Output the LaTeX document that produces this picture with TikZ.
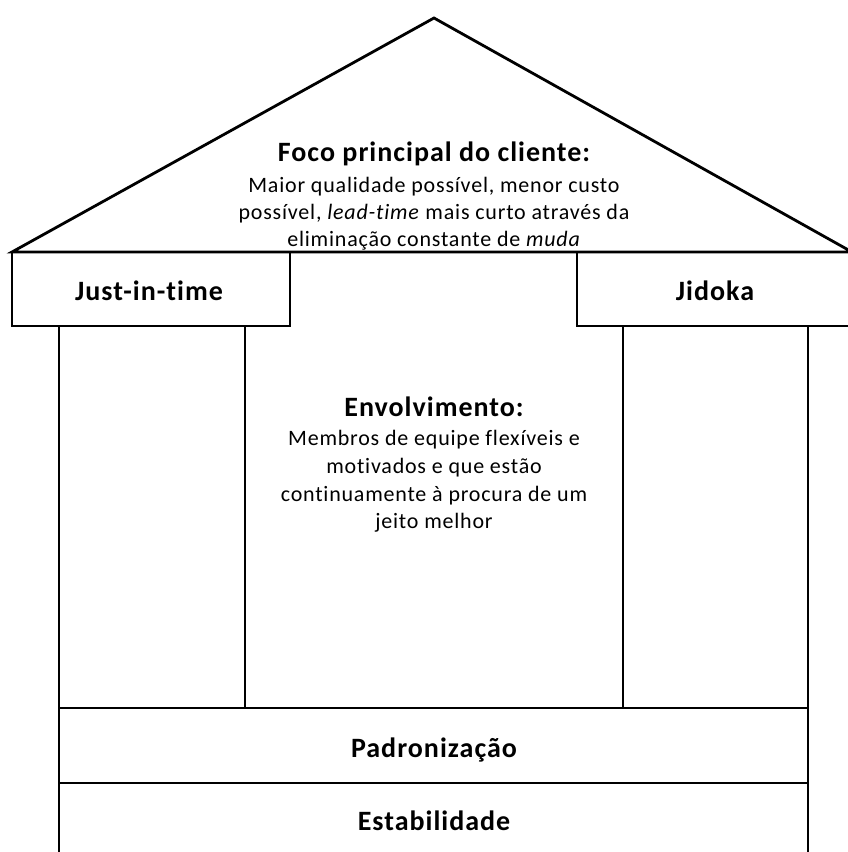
\documentclass[tikz,border=0pt]{standalone}
\usepackage{fontspec}
\setmainfont{Carlito}[LetterSpace=3.6,Ligatures=NoCommon]
\begin{document}
\begin{tikzpicture}[x=1pt,y=-1pt,
  outline/.style={draw=black,line width=2.8pt,line join=miter},
  title/.style={font=\fontsize{28}{32}\selectfont\bfseries,anchor=base,inner sep=0pt},
  body/.style={font=\fontsize{22}{27}\selectfont,anchor=base,inner sep=0pt}]
\useasboundingbox (0,0) rectangle (848,852);
% roof
\coordinate (rl) at (12,252);
\coordinate (ra) at (434,18);
\coordinate (rr) at (852,252);
\draw[outline] (rl) -- (ra) -- (rr) -- cycle;
% capital boxes
\draw[outline] (12,252) rectangle (290,326);
\draw[outline] (577,252) rectangle (852,326);
% pillars
\draw[outline] (59,326) -- (59,856);
\draw[outline] (808,326) -- (808,856);
\draw[outline] (245,326) -- (245,708);
\draw[outline] (623,326) -- (623,708);
\draw[outline] (59,708) -- (808,708);
\draw[outline] (59,783) -- (808,783);
% texts
\node[title] (foco) at (434,161) {Foco principal do cliente:};
\node[body] (f1) at (434,192) {Maior qualidade possível, menor custo};
\node[body] (f2) at (434,219) {possível, \textit{lead-time} mais curto através da};
\node[body] (f3) at (434,246) {eliminação constante de \textit{muda}};
\node[title] (jit) at (149,300) {Just-in-time};
\node[title] (jid) at (715,300) {Jidoka};
\node[title] (env) at (434,416) {Envolvimento:};
\node[body] (e1) at (434,445) {Membros de equipe flexíveis e};
\node[body] (e2) at (434,473) {motivados e que estão};
\node[body] (e3) at (434,501) {continuamente à procura de um};
\node[body] (e4) at (434,528) {jeito melhor};
\node[title] (pad) at (434,757) {Padronização};
\node[title] (est) at (434,830) {Estabilidade};
\end{tikzpicture}
\end{document}
